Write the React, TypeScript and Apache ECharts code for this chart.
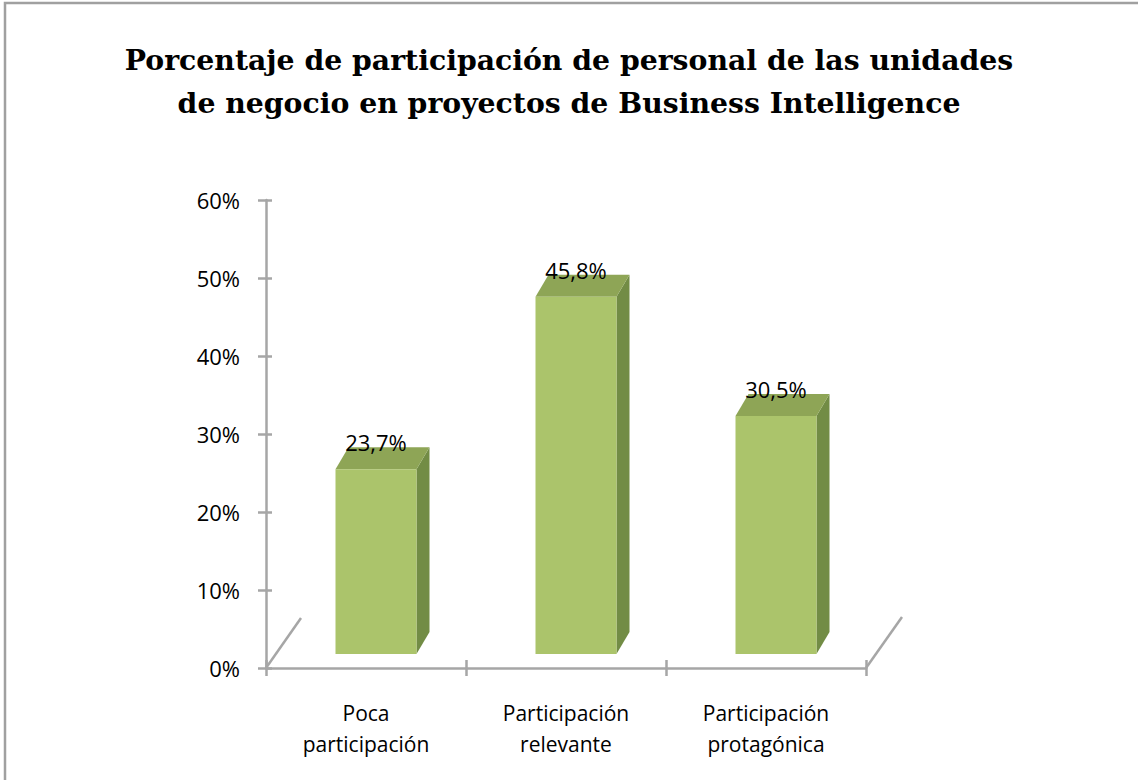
import React, { useEffect, useRef } from "react";
import * as echarts from "echarts";

const categories = ["Poca\nparticipación", "Participación\nrelevante", "Participación\nprotagónica"];
const values = [23.7, 45.8, 30.5];
const yMin = 0;
const yMax = 60;
const yInterval = 10;
const titleText = "Porcentaje de participación de personal de las unidades\nde negocio en proyectos de Business Intelligence";

const FRONT = "#abc46b";
const TOP = "#8ea556";
const SIDE = "#728c45";
const AXIS = "#a6a6a6";
const FONT = "'Open Sans', sans-serif";

export default function App() {
  const ref = useRef<HTMLDivElement>(null);
  useEffect(() => {
    if (!ref.current) return;
    const chart = echarts.init(ref.current, undefined, { renderer: "svg" });
    const fmt = (v: number) => v.toFixed(1).replace(".", ",") + "%";
    chart.setOption({
      animation: false,
      backgroundColor: "#ffffff",
      title: {
        text: titleText,
        left: "center",
        top: 33,
        textStyle: {
          fontFamily: "'DejaVu Serif', serif",
          fontWeight: "bold",
          fontSize: 28.3,
          lineHeight: 43,
          color: "#000000",
        },
      },
      grid: { left: 266, right: 272, top: 200, bottom: 112 },
      xAxis: [
        {
          type: "category",
          data: categories,
          position: "bottom",
          axisLine: { show: true, lineStyle: { color: AXIS, width: 2.5 } },
          axisTick: { show: true, length: 8, lineStyle: { color: AXIS, width: 2.5 } },
          axisLabel: {
            margin: 29,
            fontFamily: FONT,
            fontSize: 21,
            lineHeight: 31,
            color: "#000000",
          },
          splitLine: { show: false },
        },
        {
          type: "category",
          data: categories,
          position: "bottom",
          axisLine: { show: false },
          axisTick: { show: true, inside: true, length: 8, lineStyle: { color: AXIS, width: 2.5 } },
          axisLabel: { show: false },
          splitLine: { show: false },
        },
      ],
      yAxis: [
        {
          type: "value",
          min: yMin,
          max: yMax,
          interval: yInterval,
          position: "left",
          axisLine: { show: true, lineStyle: { color: AXIS, width: 2.5 } },
          axisTick: { show: true, length: 8, lineStyle: { color: AXIS, width: 2.5 } },
          axisLabel: {
            formatter: "{value}%",
            margin: 26,
            fontFamily: FONT,
            fontSize: 22,
            color: "#000000",
          },
          splitLine: { show: false },
        },
        {
          type: "value",
          min: yMin,
          max: yMax,
          interval: yInterval,
          position: "left",
          axisLine: { show: false },
          axisTick: { show: true, inside: true, length: 6, lineStyle: { color: AXIS, width: 2.5 } },
          axisLabel: { show: false },
          splitLine: { show: false },
        },
      ],
      graphic: [
        {
          type: "rect",
          shape: { x: 5, y: 3, width: 1300, height: 1000 },
          style: { fill: "none", stroke: "#a0a0a0", lineWidth: 2.5 },
          silent: true,
        },
        {
          type: "line",
          shape: { x1: 266, y1: 668, x2: 301, y2: 618 },
          style: { stroke: AXIS, lineWidth: 2.5 },
          silent: true,
        },
        {
          type: "line",
          shape: { x1: 866, y1: 668, x2: 902, y2: 617 },
          style: { stroke: AXIS, lineWidth: 2.5 },
          silent: true,
        },
      ],
      series: [
        {
          type: "custom",
          xAxisIndex: 0,
          yAxisIndex: 0,
          data: values.map((v, i) => [i, v]),
          renderItem: (params: any, api: any) => {
            const idx = api.value(0);
            const v = api.value(1);
            const base = api.coord([idx, 0]);
            const top = api.coord([idx, v]);
            const bw = api.size([1, 0])[0] * 0.405;
            const cx = base[0] + 10;
            const x0 = cx - bw / 2;
            const x1 = cx + bw / 2;
            const yb = base[1] - 14;
            const yt = top[1] - 14;
            const dx = 13;
            const dy = -22;
            return {
              type: "group",
              children: [
                {
                  type: "polygon",
                  shape: { points: [[x1, yb], [x1, yt], [x1 + dx, yt + dy], [x1 + dx, yb + dy]] },
                  style: { fill: SIDE },
                },
                {
                  type: "polygon",
                  shape: { points: [[x0, yt], [x1, yt], [x1 + dx, yt + dy], [x0 + dx, yt + dy]] },
                  style: { fill: TOP },
                },
                {
                  type: "rect",
                  shape: { x: x0, y: yt, width: bw, height: yb - yt },
                  style: { fill: FRONT },
                },
                {
                  type: "text",
                  style: {
                    text: fmt(v),
                    x: cx,
                    y: yt - 27,
                    align: "center",
                    verticalAlign: "middle",
                    fontFamily: FONT,
                    fontSize: 22,
                    fill: "#000000",
                  },
                },
              ],
            };
          },
        },
      ],
    });
    return () => chart.dispose();
  }, []);
  return (
    <div
      ref={ref}
      style={{ position: "fixed", left: 0, top: 0, width: 1138, height: 780, background: "#fff" }}
    />
  );
}
